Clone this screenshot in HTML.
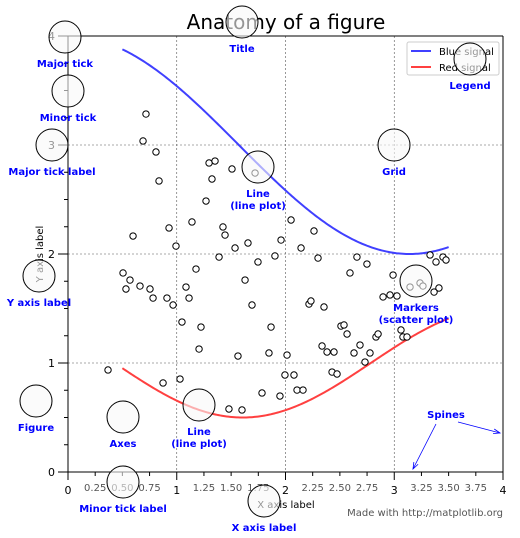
<!DOCTYPE html>
<html><head><meta charset="utf-8"><style>
html,body{margin:0;padding:0;background:#fff}
svg{display:block;font-family:"DejaVu Sans","Liberation Sans",sans-serif}
.ann{fill:#0000ff;font-weight:bold;font-size:10px;text-anchor:middle}
</style></head><body>
<svg id="fig" width="520" height="538" viewBox="0 0 520 538">
<rect x="0" y="0" width="520" height="538" fill="#fff"/>
<g id="plot"></g>
</svg>
<script>
const scatterX=[0.717,0.690,0.809,0.837,0.598,0.506,0.570,0.533,0.662,0.754,0.782,0.910,0.966,1.048,1.085,1.113,0.929,0.993,1.140,1.177,1.223,1.205,1.269,1.297,1.352,1.324,1.389,1.425,1.444,1.508,1.536,1.628,1.655,1.692,1.747,1.720,1.563,1.480,1.600,1.784,1.848,1.867,1.903,1.949,1.959,1.995,2.014,2.051,2.078,2.106,2.161,2.143,2.216,2.234,2.262,2.299,2.336,2.354,2.382,2.428,2.446,2.474,2.510,2.538,2.566,2.593,2.657,2.630,2.685,2.731,2.749,2.777,2.832,2.851,2.897,2.961,2.989,3.025,3.062,3.080,3.117,3.145,3.237,3.264,3.329,3.366,3.384,3.411,3.448,3.476,0.368,0.874,1.030];
const scatterY=[3.284,3.037,2.936,2.670,2.165,1.826,1.761,1.679,1.706,1.679,1.596,1.596,1.532,1.376,1.697,1.596,2.239,2.073,2.294,1.862,1.330,1.128,2.486,2.835,2.853,2.688,1.972,2.248,2.174,2.780,2.055,1.761,2.101,1.532,1.927,2.743,1.064,0.578,0.569,0.725,1.092,1.330,1.982,0.697,2.128,0.890,1.073,2.312,0.890,0.752,0.752,2.055,1.541,1.569,2.211,1.963,1.156,1.514,1.101,0.917,1.101,0.899,1.339,1.349,1.266,1.826,1.972,1.092,1.165,1.009,1.908,1.092,1.239,1.266,1.606,1.624,1.807,1.615,1.303,1.239,1.239,1.697,1.734,1.706,1.991,1.651,1.927,1.688,1.972,1.945,0.936,0.817,0.853];
const xMajorTicks=[0,1,2,3,4];
const xMajorLabels=["0","1","2","3","4"];
const xMinorTicks=[0.25,0.5,0.75,1.25,1.5,1.75,2.25,2.5,2.75,3.25,3.5,3.75];
const xMinorLabels=["0.25","0.50","0.75","1.25","1.50","1.75","2.25","2.50","2.75","3.25","3.50","3.75"];
const yMajorTicks=[0,1,2,3,4];
const yMajorLabels=["0","1","2","3","4"];
const yMinorTicks=[0.25,0.5,0.75,1.25,1.5,1.75,2.25,2.5,2.75,3.25,3.5,3.75];
const lineStart=0.5, lineEnd=3.5, lineSamples=200;

const NS="http://www.w3.org/2000/svg";
const g=document.getElementById('plot');
const L=68,R=503,T=36,B=472;
const sx=v=>L+(v-0)/(4-0)*(R-L);
const sy=v=>B-(v-0)/(4-0)*(B-T);
function mk(tag,attrs,parent){const e=document.createElementNS(NS,tag);for(const k in attrs)e.setAttribute(k,attrs[k]);(parent||g).appendChild(e);return e;}

xMajorTicks.forEach((v,i)=>{if(v>0&&v<4){const e=mk('line',{x1:sx(v),x2:sx(v),y1:T,y2:B,stroke:'#555','stroke-width':0.6,'stroke-dasharray':'2,2'});

}});
yMajorTicks.forEach((v,i)=>{if(v>0&&v<4){const e=mk('line',{x1:L,x2:R,y1:sy(v),y2:sy(v),stroke:'#555','stroke-width':0.6,'stroke-dasharray':'2,2'});

}});

function curve(f,color,name){let d='';for(let i=0;i<=lineSamples;i++){const x=lineStart+(lineEnd-lineStart)*i/lineSamples;d+=(i?'L':'M')+sx(x).toFixed(2)+','+sy(f(x)).toFixed(2);}
const e=mk('path',{d:d,fill:'none',stroke:color,'stroke-width':2});

}
curve(x=>3+Math.cos(x),'#4040ff','blue-signal-line');
curve(x=>1+Math.cos(1+x/0.75)/2,'#ff4040','red-signal-line');

scatterX.forEach((v,i)=>{const e=mk('circle',{cx:sx(v),cy:sy(scatterY[i]),r:3.2,fill:'#fff',stroke:'#000','stroke-width':1});

});

[[L,T,R,T],[L,B,R,B],[L,T,L,B],[R,T,R,B]].forEach(s=>{const e=mk('line',{x1:s[0],y1:s[1],x2:s[2],y2:s[3],stroke:'#000','stroke-width':1});

});

xMajorTicks.forEach((v,i)=>{const e=mk('line',{x1:sx(v),x2:sx(v),y1:B,y2:B+8,stroke:'#000','stroke-width':1});


const t=mk('text',{x:sx(v),y:B+22,'font-size':11,'text-anchor':'middle',fill:'#000'});t.textContent=xMajorLabels[i];

});
xMinorTicks.forEach((v,i)=>{const e=mk('line',{x1:sx(v),x2:sx(v),y1:B,y2:B+4,stroke:'#000','stroke-width':1});


const t=mk('text',{x:sx(v),y:B+19,'font-size':10,'text-anchor':'middle',fill:'#555'});t.textContent=xMinorLabels[i];

});
yMajorTicks.forEach((v,i)=>{const e=mk('line',{x1:L-10,x2:L,y1:sy(v),y2:sy(v),stroke:'#000','stroke-width':1});


const t=mk('text',{x:L-13,y:sy(v)+4,'font-size':11,'text-anchor':'end',fill:'#000'});t.textContent=yMajorLabels[i];

});
yMinorTicks.forEach(v=>{const e=mk('line',{x1:L-4,x2:L,y1:sy(v),y2:sy(v),stroke:'#000','stroke-width':1});

});

let t=mk('text',{x:286,y:29,'font-size':20,'text-anchor':'middle',fill:'#000'});t.textContent='Anatomy of a figure';


t=mk('text',{x:286,y:508,'font-size':10,'text-anchor':'middle',fill:'#000'});t.textContent='X axis label';


t=mk('text',{x:0,y:0,'font-size':10,'text-anchor':'middle',fill:'#000',transform:'translate(43,254) rotate(-90)'});t.textContent='Y axis label';



const lg=mk('g',{});


mk('rect',{x:407,y:42,width:92,height:33,rx:2,fill:'#fff',stroke:'#ccc','stroke-width':1},lg);
[['Blue signal','#4040ff',51],['Red signal','#ff4040',67]].forEach(a=>{const e=mk('g',{},lg);


mk('line',{x1:411,x2:431,y1:a[2],y2:a[2],stroke:a[1],'stroke-width':2},e);
const tt=mk('text',{x:439,y:a[2]+4,'font-size':10,fill:'#000'},e);tt.textContent=a[0];});

const anns=[[65,37,'Major tick',null],[68,91,'Minor tick',null],[52,145,'Major tick label',null],[242,22,'Title',null],[258,167,'Line','(line plot)'],[394,145,'Grid',null],[470,59,'Legend',null],[39,276,'Y axis label',null],[416,281,'Markers','(scatter plot)'],[36,401,'Figure',null],[123,417,'Axes',null],[199,405,'Line','(line plot)'],[123,482,'Minor tick label',null],[264,501,'X axis label',null]];
anns.forEach(a=>{const c=mk('circle',{cx:a[0],cy:a[1],r:16,fill:'#f8f8f8','fill-opacity':0.6,stroke:'#000','stroke-width':1});


const tt=mk('text',{x:a[0],y:a[1]+30,class:'ann'});tt.textContent=a[2];


if(a[3]){const t2=mk('text',{x:a[0],y:a[1]+42,class:'ann'});t2.textContent=a[3];

}});
t=mk('text',{x:446,y:418,class:'ann'});t.textContent='Spines';


[[436,424,413,469],[458,422,500,433]].forEach(a=>{const e=mk('line',{x1:a[0],y1:a[1],x2:a[2],y2:a[3],stroke:'#0000ff','stroke-width':0.8});


const ang=Math.atan2(a[3]-a[1],a[2]-a[0]);const h=7;
const p=[[a[2],a[3]],[a[2]-h*Math.cos(ang-0.35),a[3]-h*Math.sin(ang-0.35)],[a[2],a[3]],[a[2]-h*Math.cos(ang+0.35),a[3]-h*Math.sin(ang+0.35)]];
const hd=mk('path',{d:'M'+p[1]+'L'+p[0]+'L'+p[3],fill:'none',stroke:'#0000ff','stroke-width':0.8});

});
t=mk('text',{x:503,y:516,'font-size':10,'text-anchor':'end',fill:'#555'});t.textContent='Made with http://matplotlib.org';


</script>
</body></html>
